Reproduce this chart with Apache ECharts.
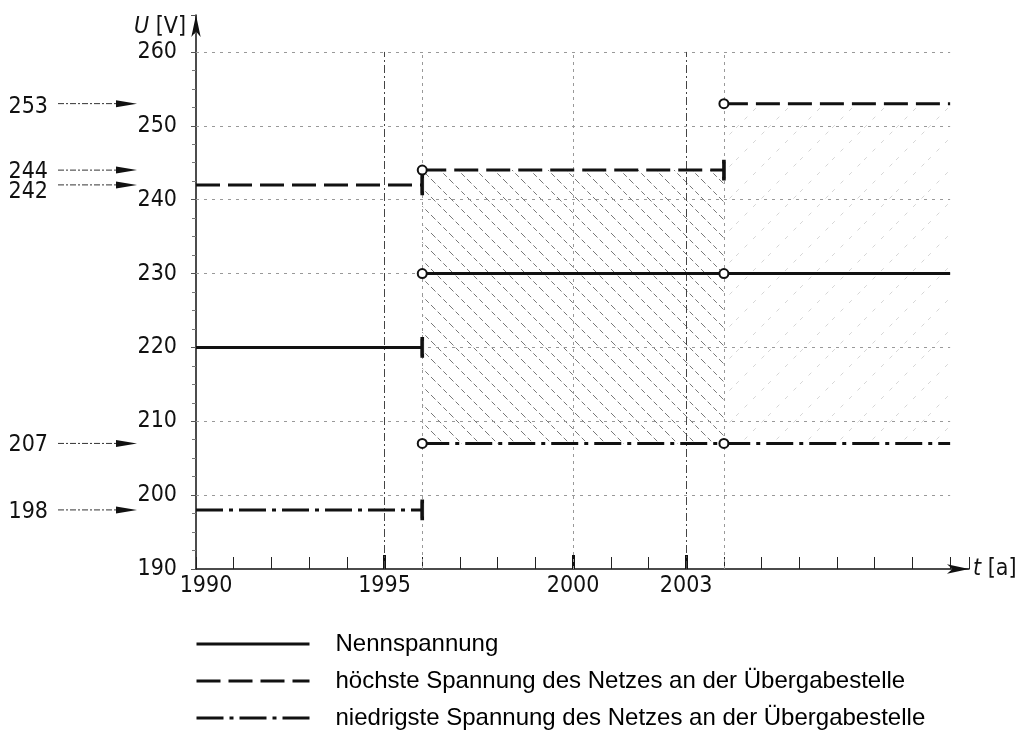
<!DOCTYPE html>
<html>
<head>
<meta charset="utf-8">
<script src="https://cdn.jsdelivr.net/npm/echarts@6/dist/echarts.min.js"></script>
<style>
html,body{margin:0;padding:0;background:#fff;}
#chart{width:1031px;height:736px;}
</style>
</head>
<body>
<div id="chart"></div>
<script>
// ---------- data ----------
const stepYears = [1990, 1996, 2004, 2010];
const nennspannung = [220, 230, 230];
const hoechste = [242, 244, 253];
const niedrigste = [198, 207, 207];
const xLabelYears = [1990, 1995, 2000, 2003];
const majorTickYears = [1995, 2000, 2003];
const gridVoltages = [200, 210, 220, 230, 240, 250, 260];
const gridYearsDotted = [1996, 2000, 2004];
const gridYearsDashDot = [1995, 2003];
const markedValues = [253, 244, 242, 207, 198];
const hatchMain = [1996, 2004, 207, 244];
const hatchFaint = [2004, 2010, 207, 253];
const seriesNames = ['Nennspannung', 'höchste Spannung des Netzes an der Übergabestelle', 'niedrigste Spannung des Netzes an der Übergabestelle'];

// ---------- helpers ----------
const techFont = "'DejaVu Sans Condensed', 'Liberation Sans Narrow', sans-serif";
const techSize = 23;

function buildSteps(vals) {
  const data = [];
  for (let i = 0; i < vals.length; i++) {
    const x0 = stepYears[i], x1 = stepYears[i + 1], v = vals[i];
    const next = i < vals.length - 1 ? vals[i + 1] : null;
    if (i === 0) data.push([x0, v]);
    else data.push({ value: [x0, v], symbol: 'emptyCircle', symbolSize: 9 });
    if (next === null) data.push([x1, v]);
    else if (next !== v) {
      data.push({ value: [x1, v], symbol: 'rect', symbolSize: [3, 17] });
      data.push([x1, null]);
    }
  }
  return data;
}

function hatchPattern(size, dir, color, width, dash) {
  const c = document.createElement('canvas');
  c.width = size; c.height = size;
  const g = c.getContext('2d');
  g.strokeStyle = color; g.lineWidth = width;
  if (dash) g.setLineDash(dash);
  g.beginPath();
  if (dir === '\\') {
    g.moveTo(0, 0); g.lineTo(size, size);
  } else {
    g.moveTo(0, size); g.lineTo(size, 0);
  }
  g.stroke();
  return { image: c, repeat: 'repeat' };
}

const gridLineData = [];
gridVoltages.forEach(v => gridLineData.push([
  { coord: [stepYears[0], v], lineStyle: { color: '#999', width: 1, type: [3, 5] } },
  { coord: [stepYears[stepYears.length - 1], v] }
]));
gridYearsDotted.forEach(y => gridLineData.push([
  { coord: [y, 190], lineStyle: { color: '#999', width: 1, type: [3, 4] } },
  { coord: [y, 260] }
]));
gridYearsDashDot.forEach(y => gridLineData.push([
  { coord: [y, 190], lineStyle: { color: '#444', width: 1, type: [8, 3, 2, 3] } },
  { coord: [y, 260] }
]));

const lineColor = '#111';
function dataSeries(name, vals, type) {
  return {
    name: name,
    type: 'line',
    z: 5,
    data: buildSteps(vals),
    symbol: 'none',
    showSymbol: true,
    connectNulls: false,
    silent: true,
    animation: false,
    lineStyle: { color: lineColor, width: 3, type: type },
    itemStyle: { color: lineColor, borderColor: lineColor, borderWidth: 1.5 },
    emphasis: { disabled: true }
  };
}

const chart = echarts.init(document.getElementById('chart'), null, { renderer: 'canvas' });

const option = {
  animation: false,
  backgroundColor: '#fff',
  grid: { left: 196, right: 62, top: 15, bottom: 167, containLabel: false },
  legend: {
    orient: 'vertical',
    left: 195,
    top: 632,
    padding: 0,
    itemWidth: 113,
    itemHeight: 14,
    itemGap: 13,
    selectedMode: false,
    data: seriesNames,
    itemStyle: { opacity: 0 },
    lineStyle: { width: 3 },
    textStyle: { fontFamily: "'Liberation Sans', Arial, sans-serif", fontSize: 24, lineHeight: 24, color: '#000', padding: [0, 0, 0, 21] }
  },
  xAxis: [{
    type: 'value',
    min: 1990,
    max: 2010.5,
    interval: 1,
    name: '{it|t} [a]',
    nameLocation: 'end',
    nameGap: 4,
    nameTextStyle: {
      fontFamily: techFont, fontSize: techSize, color: '#111', align: 'left', verticalAlign: 'middle',
      rich: { it: { fontStyle: 'italic', fontFamily: techFont, fontSize: techSize, color: '#111' } }
    },
    axisLine: { show: true, lineStyle: { color: '#111', width: 1.5 }, symbol: ['none', 'arrow'], symbolSize: [7, 22] },
    axisTick: { show: true, inside: true, length: 12, lineStyle: { color: '#222', width: 1 } },
    axisLabel: {
      show: true,
      customValues: xLabelYears,
      margin: 6,
      fontFamily: techFont, fontSize: techSize, color: '#111',
      formatter: function (v) { return v === 1990 ? '{first|' + v + '}' : String(v); },
      rich: { first: { padding: [0, 0, 0, 20], fontFamily: techFont, fontSize: techSize, color: '#111' } }
    },
    splitLine: { show: false }
  }, {
    type: 'value',
    min: 1990,
    max: 2010.5,
    position: 'bottom',
    axisLine: { show: false },
    axisTick: { show: true, inside: true, length: 14, customValues: majorTickYears, lineStyle: { color: '#111', width: 3 } },
    axisLabel: { show: false },
    splitLine: { show: false }
  }],
  yAxis: {
    type: 'value',
    min: 190,
    max: 265,
    interval: 10,
    name: '{it|U} [V]',
    nameLocation: 'end',
    nameGap: -12,
    nameTextStyle: {
      fontFamily: techFont, fontSize: techSize, color: '#111', align: 'right', verticalAlign: 'middle', padding: [0, 10, 0, 0],
      rich: { it: { fontStyle: 'italic', fontFamily: techFont, fontSize: techSize, color: '#111' } }
    },
    axisLine: { show: true, lineStyle: { color: '#111', width: 1.5 }, symbol: ['none', 'arrow'], symbolSize: [7, 22] },
    axisTick: { show: true, length: 5, lineStyle: { color: '#555' } },
    minorTick: { show: true, splitNumber: 4, length: 4, lineStyle: { color: '#777' } },
    axisLabel: { margin: 19, fontFamily: techFont, fontSize: techSize, color: '#111', showMaxLabel: false },
    splitLine: { show: false }
  },
  series: [
    {
      name: 'helper',
      type: 'line',
      data: [],
      z: 1,
      silent: true,
      markArea: {
        silent: true,
        label: { show: false },
        data: [
          [{ coord: [hatchMain[0], hatchMain[2]], itemStyle: { color: hatchPattern(18, '\\', '#777', 1, [5, 3]) } },
           { coord: [hatchMain[1], hatchMain[3]] }],
          [{ coord: [hatchFaint[0], hatchFaint[2]], itemStyle: { color: hatchPattern(32, '/', '#d6d6d6', 1, [4, 8]) } },
           { coord: [hatchFaint[1], hatchFaint[3]] }]
        ]
      },
      markLine: {
        silent: true,
        symbol: ['none', 'none'],
        label: { show: false },
        animation: false,
        data: gridLineData
      }
    },
    dataSeries(seriesNames[0], nennspannung, 'solid'),
    dataSeries(seriesNames[1], hoechste, [24, 8]),
    dataSeries(seriesNames[2], niedrigste, [27, 6, 4, 6])
  ]
};

chart.setOption(option);

// ---------- left-hand value markers (positions from the y scale) ----------
const labelDy = [3, 2, 7, 2, 2];
const graphics = [];
markedValues.forEach((v, i) => {
  const y = chart.convertToPixel({ yAxisIndex: 0 }, v);
  graphics.push({
    type: 'line', silent: true,
    shape: { x1: 58, y1: y, x2: 122, y2: y },
    style: { stroke: '#333', lineWidth: 1, lineDash: [6, 2, 2, 2] }
  });
  graphics.push({
    type: 'polygon', silent: true,
    shape: { points: [[137, y], [116, y - 3.5], [116, y + 3.5]] },
    style: { fill: '#111' }
  });
  graphics.push({
    type: 'text', silent: true,
    x: 48, y: y + labelDy[i],
    style: { text: String(v), font: techSize + "px " + techFont, fill: '#111', align: 'right', verticalAlign: 'middle' }
  });
});
chart.setOption({ graphic: graphics });
</script>
</body>
</html>
